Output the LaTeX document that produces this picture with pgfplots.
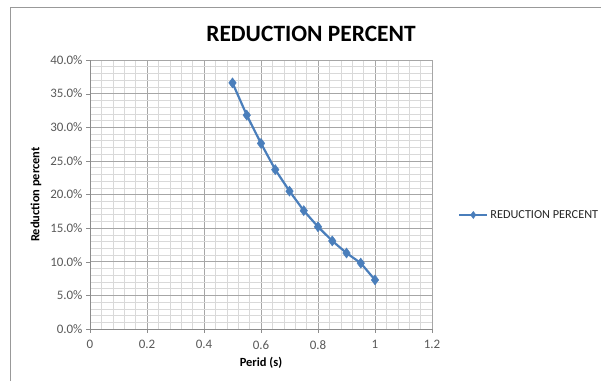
\documentclass[border=0pt]{standalone}
\usepackage{pgfplots}
\pgfplotsset{compat=1.18}
\usepackage{fontspec}
\setmainfont{Carlito}
\definecolor{ser}{RGB}{74,126,187}
\definecolor{tick}{RGB}{89,89,89}
\begin{document}
\begin{tikzpicture}[x=1bp,y=1bp]
\path[use as bounding box] (0,0) rectangle (601,381);
\draw[gray!80, line width=1bp] (10.5,0) -- (10.5,373) -- (601,373);
\begin{axis}[
  scale only axis,
  width=342bp, height=269bp,
  at={(90bp,52bp)}, anchor=south west,
  xmin=0, xmax=1.2, ymin=0, ymax=40,
  xtick={0,0.2,...,1.2},
  ytick={0,5,...,40},
  minor x tick num=4,
  minor y tick num=4,
  grid=both,
  major grid style={draw=black!35, line width=0.6pt},
  minor grid style={draw=black!15, line width=0.5pt},
  axis x line*=bottom, axis y line*=left,
  axis line style={draw=black!45},
  x axis line style={-}, y axis line style={-},
  tick style={draw=black!45},
  major tick length=4pt,
  minor tick length=0pt,
  xtick align=outside, ytick align=outside,
  tick label style={font=\fontsize{13}{15}\selectfont, text=tick},
  xticklabel style={/pgf/number format/fixed, /pgf/number format/precision=1, yshift=-4pt},
  yticklabel={\pgfmathprintnumber[fixed, fixed zerofill, precision=1]{\tick}\%},
  /pgf/number format/assume math mode=true,
  xlabel={\textbf{Perid (s)}},
  ylabel={\textbf{Reduction percent}},
  label style={font=\fontsize{12.5}{14}\selectfont},
  xlabel style={yshift=-1pt},
  ylabel style={yshift=2pt},
  clip=false,
  legend style={at={(1.076,0.424)}, anchor=west, draw=none, fill=none,
    font=\fontsize{12.3}{14}\selectfont, text=black!85,
    inner sep=0pt, cells={anchor=west}},
  legend image code/.code={
    \draw[#1, mark repeat=2, mark phase=2, mark size=3.5pt] plot coordinates {(0bp,0bp) (14bp,0bp) (28bp,0bp)};
  },
]
\addplot[ser, line width=2.2pt, mark=diamond*, mark size=5pt, mark options={fill=ser, draw=ser, line width=0.5pt}]
coordinates {
(0.50,36.6) (0.55,31.8) (0.60,27.6) (0.65,23.7) (0.70,20.5) (0.75,17.6)
(0.80,15.2) (0.85,13.1) (0.90,11.3) (0.95,9.8) (1.00,7.3)
};
\addlegendentry{REDUCTION PERCENT}
\end{axis}
\node[font=\fontsize{23.5}{26}\selectfont\bfseries] at (311,347) {REDUCTION PERCENT};
\end{tikzpicture}
\end{document}
